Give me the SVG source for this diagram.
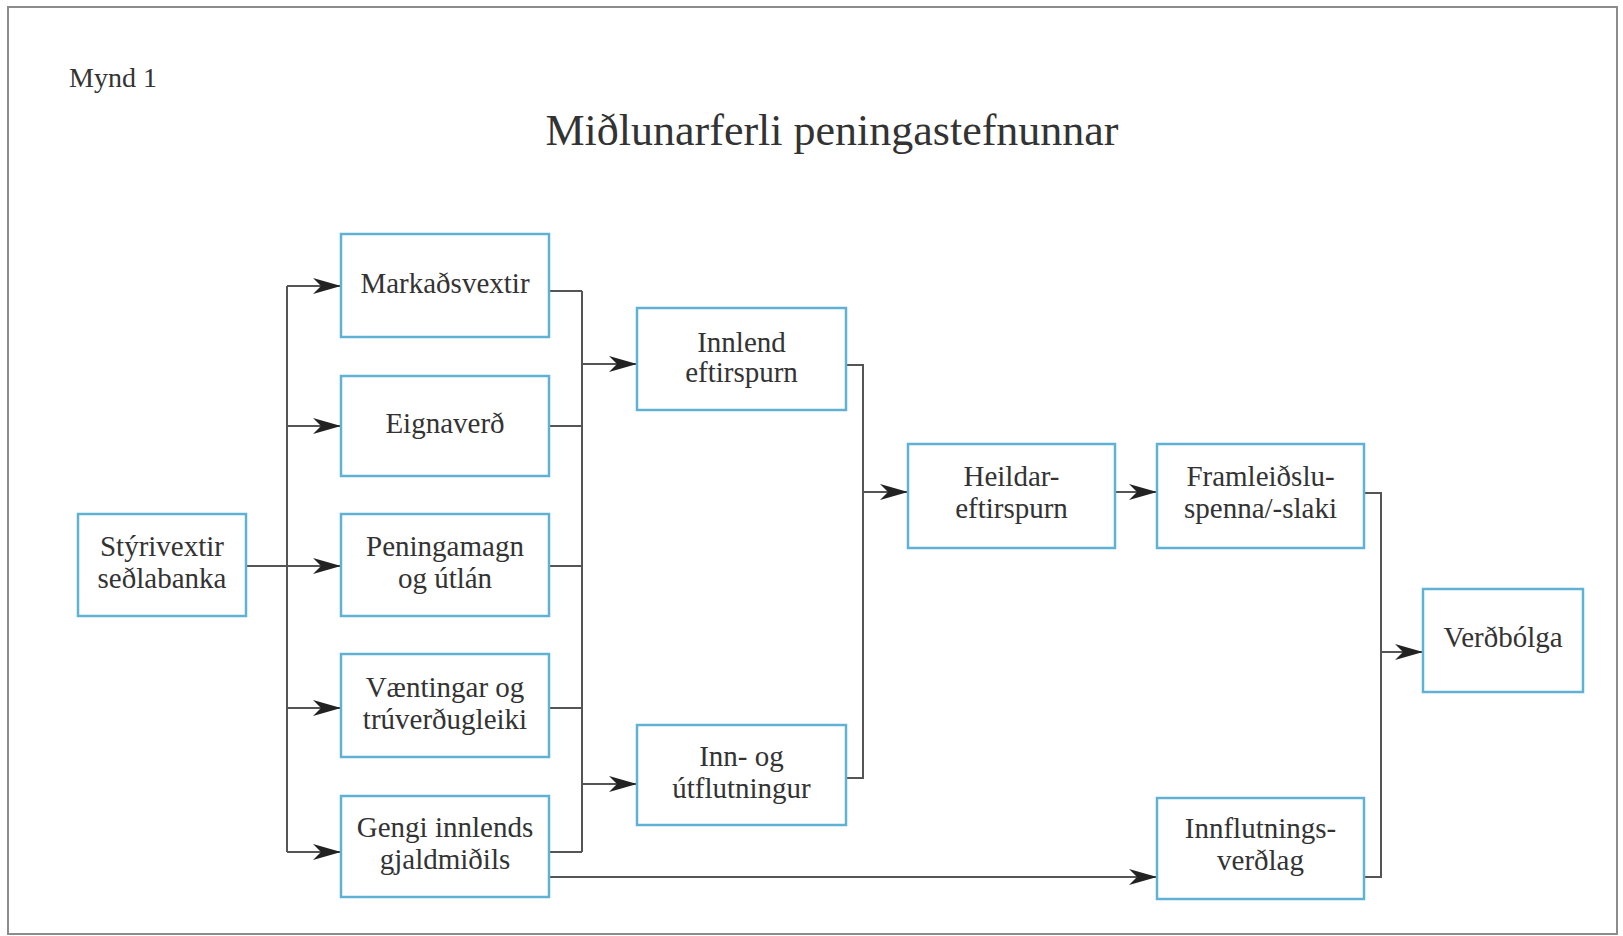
<svg xmlns="http://www.w3.org/2000/svg" width="1623" height="936" viewBox="0 0 1623 936">
<defs>
<style>
.frame{fill:#fff;stroke:#8c8c8c;stroke-width:2}
.box{fill:#fff;stroke:#5fb2d3;stroke-width:2.5}
.t{font-family:"Liberation Serif","Times New Roman",serif;font-size:29px;fill:#333;text-anchor:middle}
.cap{font-family:"Liberation Serif","Times New Roman",serif;fill:#333}
.ln{fill:none;stroke:#555;stroke-width:2}
.ar{fill:none;stroke:#555;stroke-width:2;marker-end:url(#ah)}
</style>
<marker id="ah" markerUnits="userSpaceOnUse" markerWidth="30" markerHeight="18" refX="28" refY="8" orient="auto">
<path d="M0,0 L28,8 L0,16 L8,8 z" fill="#222"/>
</marker>
</defs>
<rect class="frame" x="8" y="7" width="1609" height="927"/>
<text class="cap" x="69" y="87" font-size="28">Mynd 1</text>
<text class="cap" x="832" y="145" font-size="44" text-anchor="middle">Miðlunarferli peningastefnunnar</text>

<g id="connectors">
<path class="ar" d="M246,566 H341"/>
<path class="ln" d="M287,286 V852"/>
<path class="ar" d="M287,286 H341"/>
<path class="ar" d="M287,426 H341"/>
<path class="ar" d="M287,708 H341"/>
<path class="ar" d="M287,852 H341"/>
<path class="ln" d="M549,291 H582 M549,426 H582 M549,566 H582 M549,708 H582 M549,852 H582 M582,291 V852"/>
<path class="ar" d="M582,364 H637"/>
<path class="ar" d="M582,784 H637"/>
<path class="ln" d="M846,365 H863 V778 H846"/>
<path class="ar" d="M863,492 H908"/>
<path class="ar" d="M1115,492 H1157"/>
<path class="ln" d="M1364,493 H1381 V877 H1364"/>
<path class="ar" d="M1381,652 H1423"/>
<path class="ar" d="M549,877 H1157"/>
</g>

<g id="styrivextir"><rect class="box" x="78" y="514" width="168" height="102"/><text class="t" x="162" y="556">Stýrivextir</text><text class="t" x="162" y="588">seðlabanka</text></g>
<g id="markadsvextir"><rect class="box" x="341" y="234" width="208" height="103"/><text class="t" x="445" y="293">Markaðsvextir</text></g>
<g id="eignaverd"><rect class="box" x="341" y="376" width="208" height="100"/><text class="t" x="445" y="433">Eignaverð</text></g>
<g id="peningamagn"><rect class="box" x="341" y="514" width="208" height="102"/><text class="t" x="445" y="556">Peningamagn</text><text class="t" x="445" y="588">og útlán</text></g>
<g id="vaentingar"><rect class="box" x="341" y="654" width="208" height="103"/><text class="t" x="445" y="697">Væntingar og</text><text class="t" x="445" y="729">trúverðugleiki</text></g>
<g id="gengi"><rect class="box" x="341" y="796" width="208" height="101"/><text class="t" x="445" y="837">Gengi innlends</text><text class="t" x="445" y="869">gjaldmiðils</text></g>
<g id="innlend"><rect class="box" x="637" y="308" width="209" height="102"/><text class="t" x="741.5" y="352">Innlend</text><text class="t" x="741.5" y="382">eftirspurn</text></g>
<g id="innogut"><rect class="box" x="637" y="725" width="209" height="100"/><text class="t" x="741.5" y="766">Inn- og</text><text class="t" x="741.5" y="798">útflutningur</text></g>
<g id="heildar"><rect class="box" x="908" y="444" width="207" height="104"/><text class="t" x="1011.5" y="486">Heildar-</text><text class="t" x="1011.5" y="518">eftirspurn</text></g>
<g id="framleidslu"><rect class="box" x="1157" y="444" width="207" height="104"/><text class="t" x="1260.5" y="486">Framleiðslu-</text><text class="t" x="1260.5" y="518">spenna/-slaki</text></g>
<g id="innflutnings"><rect class="box" x="1157" y="798" width="207" height="101"/><text class="t" x="1260.5" y="838">Innflutnings-</text><text class="t" x="1260.5" y="870">verðlag</text></g>
<g id="verdbolga"><rect class="box" x="1423" y="589" width="160" height="103"/><text class="t" x="1503" y="647">Verðbólga</text></g>
</svg>
